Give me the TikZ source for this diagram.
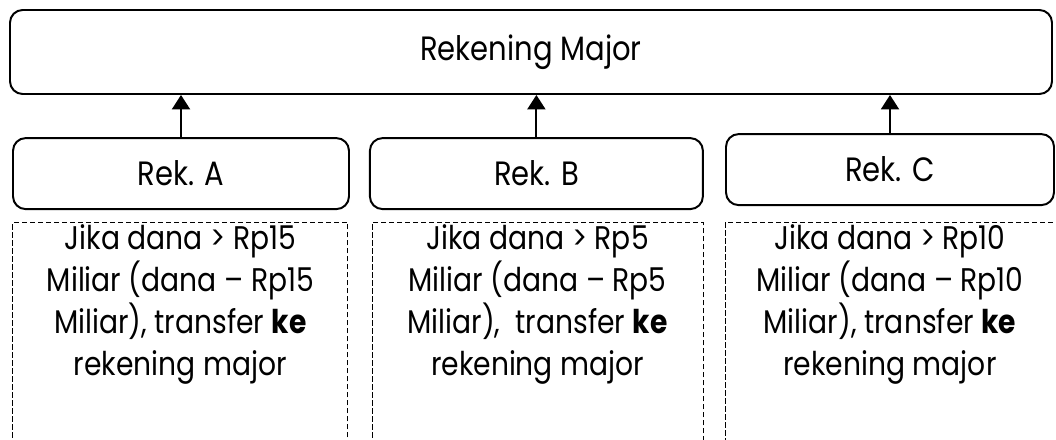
\documentclass[tikz,border=0pt]{standalone}
\usepackage{fontspec}
\setmainfont{Poppins}[FakeStretch=0.86]
\usepackage{tikz}
\usetikzlibrary{arrows.meta, positioning}

\begin{document}
\begin{tikzpicture}[
    akun/.style={draw, line width=1.4pt, rounded corners=9pt, font=\fontsize{24}{28}\selectfont},
    ketbox/.style={draw, line width=0.6pt, dash pattern=on 0.13cm off 0.07cm, anchor=north, minimum height=7cm},
    ket/.style={anchor=north, align=center, inner sep=0pt, font=\fontsize{23.3}{29.9}\selectfont},
    panah/.style={-{Triangle[width=0.45cm, length=0.36cm]}, line width=1.4pt}
  ]
    \useasboundingbox (0,0) rectangle (26.4,-11);
    \clip (0,0) rectangle (26.4,-11);

    % Rekening major
    \node[akun, minimum width=26.05cm, minimum height=2.1cm] (major) at (13.275, -1.3) {Rekening Major};

    % Rekening A, B, C
    \node[akun, minimum width=8.4cm, minimum height=1.775cm] (rekA) at (4.525, -4.34) {Rek. A};
    \node[akun, minimum width=8.325cm, minimum height=1.775cm] (rekB) at (13.41, -4.34) {Rek. B};
    \node[akun, minimum width=8.2cm, minimum height=1.775cm] (rekC) at (22.25, -4.24) {Rek. C};

    % Transfer ke major
    \draw[panah] (rekA.north) -- (rekA.north |- major.south);
    \draw[panah] (rekB.north) -- (rekB.north |- major.south);
    \draw[panah] (rekC.north) -- (rekC.north |- major.south);

    % Keterangan
    \node[ketbox, minimum width=8.375cm] (ketA) at (4.51, -5.55) {};
    \node[ketbox, minimum width=8.275cm] (ketB) at (13.44, -5.55) {};
    \node[ketbox, minimum width=8.9cm] (ketC) at (22.575, -5.55) {};

    \node[ket, yshift=-0.06cm] (txtA) at (ketA.north) {Jika dana > Rp15\\Miliar (dana – Rp15\\Miliar), transfer \textbf{ke}\\rekening major};
    \node[ket, yshift=-0.06cm] (txtB) at (ketB.north) {Jika dana > Rp5\\Miliar (dana – Rp5\\Miliar),\ \ transfer \textbf{ke}\\rekening major};
    \node[ket, yshift=-0.06cm] (txtC) at (ketC.north -| rekC) {Jika dana > Rp10\\Miliar (dana – Rp10\\Miliar), transfer \textbf{ke}\\rekening major};
\end{tikzpicture}
\end{document}
